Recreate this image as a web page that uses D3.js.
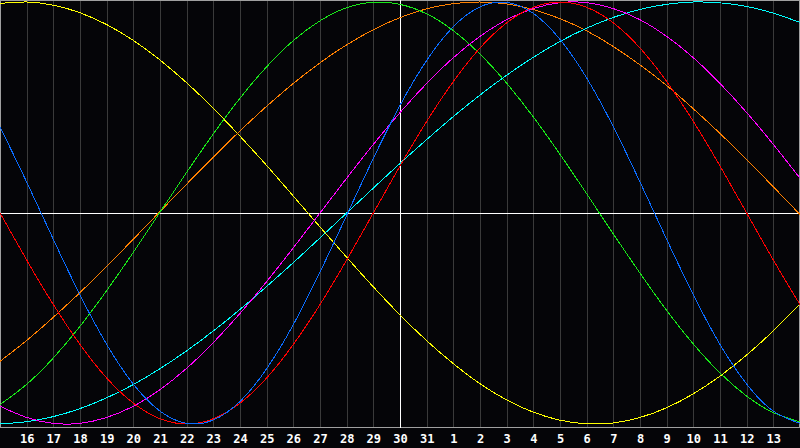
<!DOCTYPE html>
<html>
<head>
<meta charset="utf-8">
<script src="https://cdn.jsdelivr.net/npm/d3@7"></script>
<style>
  html, body { margin: 0; padding: 0; background: #050508; }
  svg { display: block; }
</style>
</head>
<body>
<svg id="chart" width="800" height="448"></svg>
<script>
// Day labels, one per day position (first and last sit on the chart edges, not labelled)
const dayLabels = [15,16,17,18,19,20,21,22,23,24,25,26,27,28,29,30,31,1,2,3,4,5,6,7,8,9,10,11,12,13,14];

// Series values (percent, -100..100), one per day position
const physical     = [40.8,14.7,-12.5,-38.8,-62.3,-81.1,-93.9,-99.7,-98.1,-89.3,-73.8,-52.9,-28.0,-1.1,25.9,51.0,72.3,88.3,97.7,99.8,94.6,82.3,64.0,40.9,14.7,-12.5,-38.8,-62.3,-81.1,-93.9,-99.7];
const emotional    = [0,-22.3,-43.4,-62.3,-78.2,-90.1,-97.5,-100,-97.5,-90.1,-78.2,-62.3,-43.4,-22.3,0,22.3,43.4,62.3,78.2,90.1,97.5,100,97.5,90.1,78.2,62.3,43.4,22.3,0,-22.3,-43.4];
const intellectual = [-90.8,-81.2,-68.7,-53.7,-36.8,-18.6,0.4,19.3,37.5,54.4,69.3,81.7,91.1,97.3,99.9,98.9,94.4,86.4,75.3,61.5,45.5,27.8,9.1,-9.9,-28.5,-46.2,-62.1,-75.8,-86.8,-94.6,-99.0];
const intuitive    = [-91.6,-96.9,-99.7,-99.7,-96.9,-91.6,-83.7,-73.6,-61.4,-47.6,-32.5,-16.5,0,16.5,32.5,47.6,61.4,73.6,83.7,91.6,96.9,99.7,99.7,96.9,91.6,83.7,73.6,61.4,47.6,32.5,16.5];
const aesthetic    = [99.3,100,98.5,94.9,89.3,81.8,72.5,61.7,49.6,36.4,22.5,8.0,-6.6,-21.0,-35.0,-48.3,-60.5,-71.4,-80.9,-88.6,-94.4,-98.2,-99.9,-99.5,-96.9,-92.3,-85.7,-77.3,-67.3,-55.8,-43.1];
const awareness    = [-70.3,-60.4,-49.4,-37.7,-25.3,-12.4,0.7,13.7,26.5,38.9,50.6,61.4,71.2,79.7,86.9,92.6,96.8,99.2,100,99.1,96.4,92.1,86.3,78.9,70.2,60.4,49.4,37.7,25.3,12.4,-0.7];
const spiritual    = [-100,-98.9,-96.5,-92.7,-87.6,-81.3,-73.8,-65.3,-55.9,-45.7,-34.8,-23.5,-11.8,0,11.8,23.5,34.8,45.7,55.9,65.3,73.8,81.3,87.6,92.7,96.5,98.9,100,99.6,97.9,94.7,90.3];

const seriesNames  = ["aesthetic","awareness","intellectual","spiritual","intuitive","emotional","physical"];
const seriesValues = [aesthetic, awareness, intellectual, spiritual, intuitive, emotional, physical];
const seriesColors = ["#ffff00","#ff8000","#18e818","#00ffff","#ff00ff","#ff0000","#0a6cff"];

const W = 800, axisY = 427.5;
const svg = d3.select("#chart");

const x = d3.scaleLinear().domain([0, dayLabels.length - 1]).range([0, W]);
const y = d3.scaleLinear().domain([-100, 100]).range([424, 2]);

svg.append("rect").attr("width", W).attr("height", 448).attr("fill", "#050508");

// vertical day grid
svg.append("g").selectAll("line")
  .data(d3.range(1, dayLabels.length - 1))
  .join("line")
  .attr("x1", d => Math.round(x(d)) + 0.5)
  .attr("x2", d => Math.round(x(d)) + 0.5)
  .attr("y1", 0).attr("y2", axisY)
  .attr("stroke", "#3a3a3a").attr("stroke-width", 1)
  .attr("shape-rendering", "crispEdges");

// borders
const border = svg.append("g").attr("stroke", "#a0a0a0").attr("stroke-width", 1).attr("shape-rendering", "crispEdges");
border.append("line").attr("x1", 0.5).attr("x2", 0.5).attr("y1", 0).attr("y2", axisY);
border.append("line").attr("x1", W - 0.5).attr("x2", W - 0.5).attr("y1", 0).attr("y2", axisY);
border.append("line").attr("x1", 0).attr("x2", W).attr("y1", 0.5).attr("y2", 0.5);
border.append("line").attr("x1", 0).attr("x2", W).attr("y1", axisY).attr("y2", axisY);

// centre cross
const zeroY = Math.floor(y(0)) + 0.5;
const midX = Math.round(x(15)) + 0.5;
svg.append("line").attr("x1", 0).attr("x2", W).attr("y1", zeroY).attr("y2", zeroY)
  .attr("stroke", "#ffffff").attr("shape-rendering", "crispEdges");
svg.append("line").attr("x1", midX).attr("x2", midX).attr("y1", 0).attr("y2", axisY)
  .attr("stroke", "#ffffff").attr("shape-rendering", "crispEdges");

// curves
const line = d3.line()
  .x((d, i) => x(i))
  .y(d => y(d))
  .curve(d3.curveNatural);

svg.append("g").selectAll("path")
  .data(seriesValues)
  .join("path")
  .attr("d", d => line(d))
  .attr("fill", "none")
  .attr("stroke", (d, i) => seriesColors[i])
  .attr("stroke-width", 1)
  .attr("shape-rendering", "crispEdges");

// x axis labels
const axis = d3.axisBottom(x)
  .tickValues(d3.range(1, dayLabels.length - 1))
  .tickFormat(i => dayLabels[i])
  .tickSize(0)
  .tickPadding(7);
const gAxis = svg.append("g").attr("transform", `translate(0,${axisY})`).call(axis);
gAxis.select(".domain").remove();
gAxis.selectAll("text")
  .attr("fill", "#ffffff")
  .style("font-family", "'DejaVu Sans Mono', monospace")
  .style("font-weight", "bold")
  .style("font-size", "12px");
</script>
</body>
</html>
